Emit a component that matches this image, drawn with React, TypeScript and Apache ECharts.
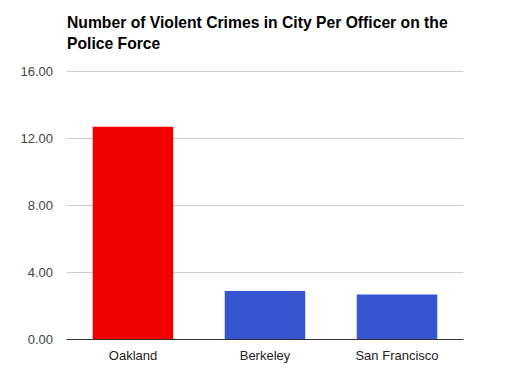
import React, { useEffect, useRef } from "react";
import * as echarts from "echarts";

const cities = ["Oakland", "Berkeley", "San Francisco"];
const crimesPerOfficer = [12.67, 2.87, 2.65];
const barColors = ["#f10000", "#3656d1", "#3656d1"];
const titleText = "Number of Violent Crimes in City Per Officer on the\nPolice Force";

export default function App() {
  const ref = useRef<HTMLDivElement>(null);
  useEffect(() => {
    document.body.style.margin = "0";
    if (!ref.current) return;
    const chart = echarts.init(ref.current, null, { renderer: "svg" });
    chart.setOption({
      animation: false,
      backgroundColor: "#ffffff",
      title: {
        text: titleText,
        left: 62,
        top: 7,
        textStyle: {
          fontFamily: "Liberation Sans, Arial, sans-serif",
          fontSize: 15.7,
          fontWeight: "bold",
          color: "#000000",
          lineHeight: 21,
        },
      },
      grid: { left: 67, right: 62, top: 71, bottom: 52, containLabel: false },
      xAxis: {
        type: "category",
        data: cities,
        axisTick: { show: false },
        axisLine: { lineStyle: { color: "#333333", width: 1 } },
        axisLabel: {
          color: "#222222",
          fontFamily: "Liberation Sans, Arial, sans-serif",
          fontSize: 13,
          margin: 10,
        },
      },
      yAxis: {
        type: "value",
        min: 0,
        max: 16,
        interval: 4,
        axisLine: { show: false },
        axisTick: { show: false },
        splitLine: { lineStyle: { color: "#cccccc", width: 1 } },
        axisLabel: {
          color: "#444444",
          fontFamily: "Liberation Sans, Arial, sans-serif",
          fontSize: 13,
          margin: 14,
          formatter: (v: number) => v.toFixed(2),
        },
      },
      series: [
        {
          type: "bar",
          data: crimesPerOfficer.map((v, i) => ({ value: v, itemStyle: { color: barColors[i] } })),
          barWidth: "61%",
        },
      ],
    });
    return () => chart.dispose();
  }, []);
  return <div ref={ref} style={{ width: 525, height: 391 }} />;
}
